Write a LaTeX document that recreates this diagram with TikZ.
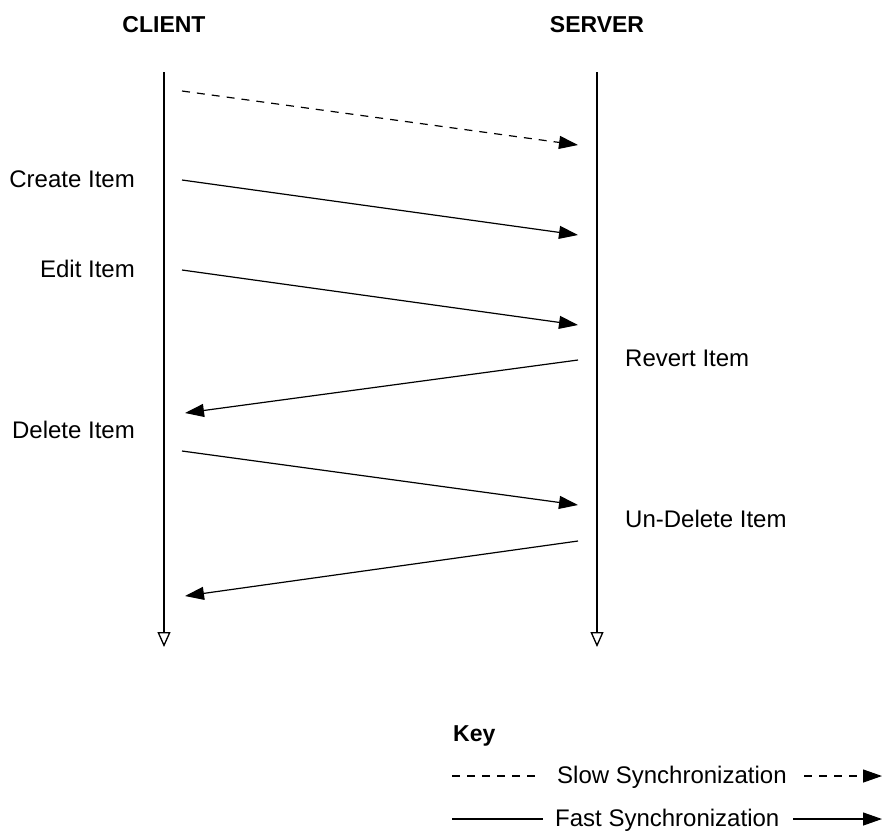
\documentclass[tikz,border=0pt]{standalone}
\usepackage{fontspec}
\setmainfont{Liberation Sans}
\usetikzlibrary{arrows.meta}
\begin{document}
\begin{tikzpicture}[x=1pt,y=-1pt,
  lbl/.style={font=\fontsize{24}{28}\selectfont, inner sep=0pt},
  hdr/.style={font=\bfseries\fontsize{23}{27}\selectfont, inner sep=0pt},
  msg/.style={line width=1.2pt, -{Triangle[length=19pt,width=13pt]}},
  slowmsg/.style={msg, dash pattern=on 8pt off 7pt},
  plain/.style={line width=1.2pt},
  dashline/.style={line width=1.2pt, dash pattern=on 8pt off 7pt},
  life/.style={line width=1.3pt, -{Triangle[open,length=15pt,width=13pt,line width=1.3pt]}}]
\useasboundingbox (0,0) rectangle (885,839);

% headers
\node[hdr, anchor=base] (client) at (164,32) {CLIENT};
\node[hdr, anchor=base] (server) at (597,32) {SERVER};

% lifelines
\coordinate (ctop) at (164,72);
\coordinate (cbot) at (164,647);
\coordinate (stop) at (597,72);
\coordinate (sbot) at (597,647);
\draw[life] (ctop) -- (cbot);
\draw[life] (stop) -- (sbot);

% message end points
\coordinate (m0a) at (182,91);  \coordinate (m0b) at (578,145);
\coordinate (m1a) at (182,180); \coordinate (m1b) at (578,235);
\coordinate (m2a) at (182,270); \coordinate (m2b) at (578,325);
\coordinate (m3a) at (578,360); \coordinate (m3b) at (185,413);
\coordinate (m4a) at (182,451); \coordinate (m4b) at (578,505);
\coordinate (m5a) at (578,541); \coordinate (m5b) at (185,596);

\draw[slowmsg] (m0a) -- (m0b);
\draw[msg] (m1a) -- (m1b);
\draw[msg] (m2a) -- (m2b);
\draw[msg] (m3a) -- (m3b);
\draw[msg] (m4a) -- (m4b);
\draw[msg] (m5a) -- (m5b);

% labels
\node[lbl, anchor=base east] (create) at (135,187) {Create Item};
\node[lbl, anchor=base east] (edit) at (135,277) {Edit Item};
\node[lbl, anchor=base east] (delete) at (135,438) {Delete Item};
\node[lbl, anchor=base west] (revert) at (625,366) {Revert Item};
\node[lbl, anchor=base west] (undelete) at (625,527) {Un-Delete Item};

% key
\node[hdr, anchor=base west] (key) at (453,741) {Key};
\node[lbl, anchor=base west] (slowtxt) at (557,783) {Slow Synchronization};
\node[lbl, anchor=base west] (fasttxt) at (555,826) {Fast Synchronization};
\coordinate (s1) at (452,776); \coordinate (s2) at (541,776);
\coordinate (s3) at (804,776); \coordinate (s4) at (882,776);
\coordinate (f1) at (452,819); \coordinate (f2) at (543,819);
\coordinate (f3) at (793,819); \coordinate (f4) at (882,819);
\draw[dashline] (s1) -- (s2);
\draw[slowmsg] (s3) -- (s4);
\draw[plain] (f1) -- (f2);
\draw[msg] (f3) -- (f4);
\end{tikzpicture}
\end{document}
